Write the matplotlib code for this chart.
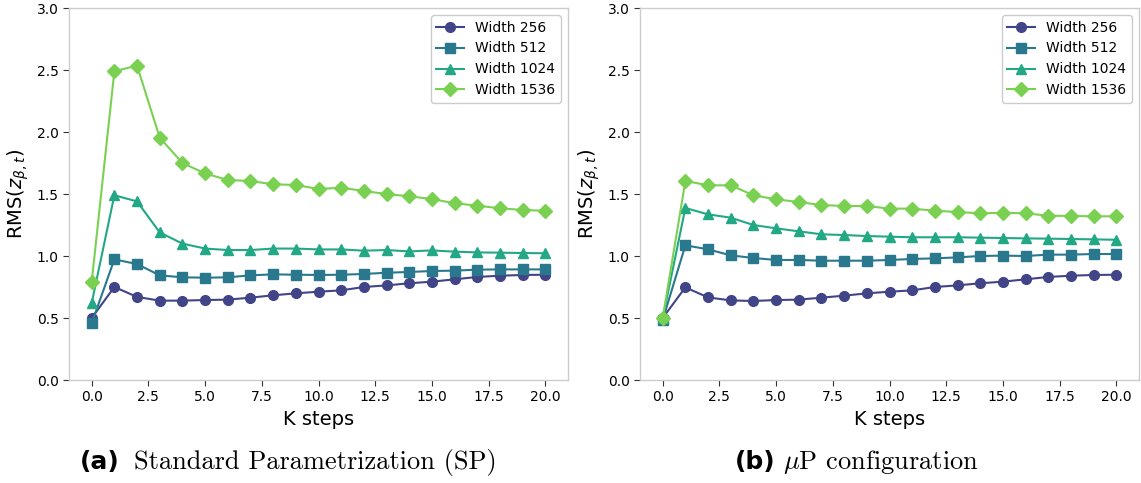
import numpy as np
import matplotlib
matplotlib.use("Agg")
import matplotlib.pyplot as plt

# K steps on the x axis
steps = np.arange(0, 21)
widths = [256, 512, 1024, 1536]

# (a) Standard Parametrization
sp_256 = [0.50, 0.75, 0.67, 0.64, 0.64, 0.645, 0.648, 0.664, 0.683, 0.699, 0.712,
          0.723, 0.75, 0.763, 0.78, 0.793, 0.812, 0.831, 0.841, 0.847, 0.849]
sp_512 = [0.457, 0.973, 0.935, 0.844, 0.828, 0.825, 0.828, 0.844, 0.852, 0.849, 0.847,
          0.849, 0.855, 0.865, 0.871, 0.879, 0.882, 0.89, 0.892, 0.892, 0.892]
sp_1024 = [0.62, 1.49, 1.44, 1.19, 1.10, 1.06, 1.048, 1.048, 1.06, 1.06, 1.053,
           1.053, 1.043, 1.048, 1.037, 1.045, 1.035, 1.029, 1.027, 1.024, 1.022]
sp_1536 = [0.79, 2.49, 2.535, 1.954, 1.75, 1.666, 1.613, 1.605, 1.578, 1.573, 1.54,
           1.551, 1.524, 1.50, 1.481, 1.46, 1.425, 1.406, 1.385, 1.371, 1.365]

# (b) muP configuration
mup_256 = [0.50, 0.747, 0.666, 0.642, 0.637, 0.645, 0.648, 0.664, 0.68, 0.699, 0.712,
           0.723, 0.75, 0.763, 0.78, 0.793, 0.812, 0.831, 0.841, 0.847, 0.849]
mup_512 = [0.484, 1.086, 1.054, 1.005, 0.984, 0.968, 0.968, 0.962, 0.962, 0.962, 0.968,
           0.976, 0.981, 0.989, 1.0, 1.003, 1.0, 1.011, 1.011, 1.016, 1.016]
mup_1024 = [0.497, 1.387, 1.336, 1.309, 1.25, 1.223, 1.199, 1.175, 1.169, 1.161, 1.156,
            1.151, 1.151, 1.151, 1.148, 1.145, 1.142, 1.14, 1.137, 1.134, 1.131]
mup_1536 = [0.497, 1.605, 1.57, 1.57, 1.49, 1.457, 1.435, 1.411, 1.403, 1.403, 1.382,
            1.382, 1.365, 1.355, 1.344, 1.349, 1.344, 1.325, 1.323, 1.32, 1.32]

colors = ['#414487', '#2a788e', '#22a884', '#7ad151']
markers = ['o', 's', '^', 'D']


def draw_panel(ax, series):
    for w, vals, c, m in zip(widths, series, colors, markers):
        ax.plot(steps, vals, color=c, marker=m, markersize=7, linewidth=1.5,
                label=f'Width {w}')
    ax.set_ylim(0, 3.0)
    ax.set_yticks(np.arange(0, 3.01, 0.5))
    ax.set_xlabel('K steps', fontsize=14)
    ax.set_ylabel(r'RMS($z_{\beta,t}$)', fontsize=14)
    for s in ax.spines.values():
        s.set_color('#cccccc')
        s.set_linewidth(1.0)
    ax.tick_params(labelsize=10, length=4, color='#333333')
    ax.legend(loc='upper right', fontsize=10, framealpha=1, edgecolor='#cccccc')


fig = plt.figure(figsize=(11.41, 4.83), dpi=100)
W, H = 1141, 483
ax1 = fig.add_axes([69 / W, 1 - 380 / H, 499 / W, 372 / H])
ax2 = fig.add_axes([640 / W, 1 - 380 / H, 499 / W, 372 / H])

draw_panel(ax1, [sp_256, sp_512, sp_1024, sp_1536])
draw_panel(ax2, [mup_256, mup_512, mup_1024, mup_1536])

# sub-figure captions
cap_y = 1 - 462 / H
fig.text(80 / W, cap_y, '(a)', fontsize=18, fontweight='bold', va='center')
fig.text(134 / W, cap_y, 'Standard Parametrization (SP)', fontsize=19,
         family='cmr10', va='center')
fig.text(735 / W, cap_y, '(b)', fontsize=18, fontweight='bold', va='center')
fig.text(783 / W, cap_y, r'$\mu$P configuration', fontsize=19, family='cmr10',
         math_fontfamily='cm', va='center')

fig.savefig('out.png', dpi=100)
